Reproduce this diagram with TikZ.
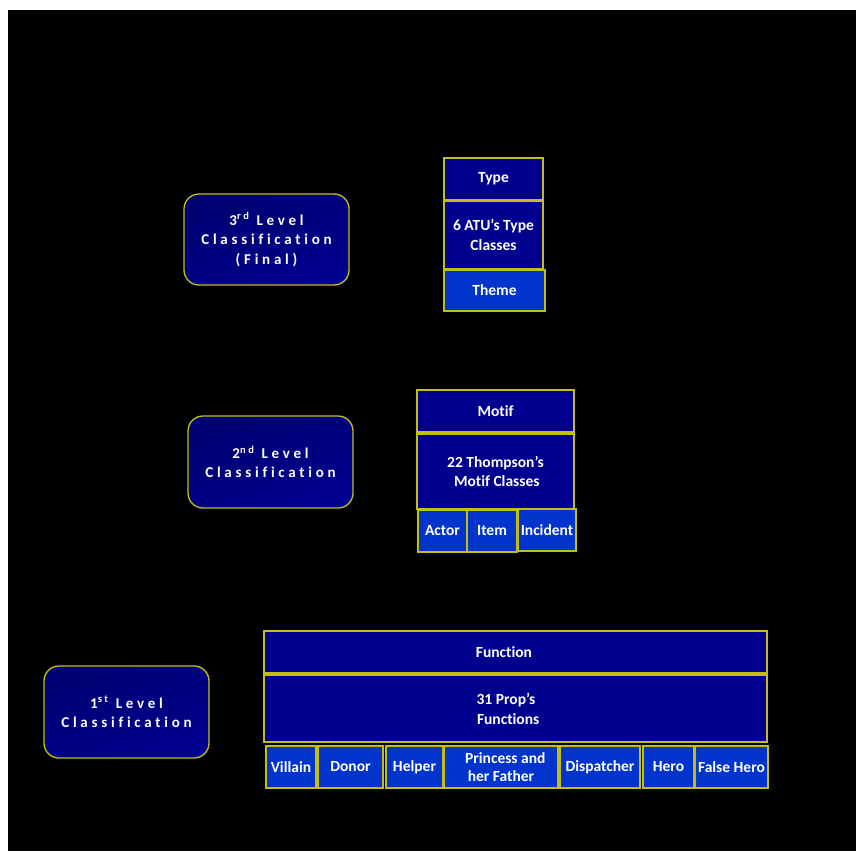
\documentclass[tikz,border=0pt]{standalone}
\usepackage{fontspec}
\setmainfont{Carlito}[Ligatures=NoCommon]
\definecolor{navy}{RGB}{0,0,142}
\definecolor{lblue}{RGB}{0,52,204}
\definecolor{bord}{RGB}{196,190,20}
\newcommand{\bx}[7]{%
  \node[#6, minimum width={(#4)-(#2)}, minimum height={(#5)-(#3)}] (#1) at ({((#2)+(#4))/2},{((#3)+(#5))/2}) {#7};}
\begin{document}
\begin{tikzpicture}[x=1pt,y=-1pt,
  dk/.style={draw=bord, line width=1.3pt, fill=navy, inner sep=0pt, outer sep=0pt, text=white, font=\fontsize{15.5}{18}\selectfont\bfseries, align=center},
  lt/.style={dk, fill=lblue},
  lvl/.style={draw=bord, line width=1.3pt, rounded corners=15pt, inner sep=0pt, outer sep=0pt, top color=navy!80!black, bottom color=navy, shading angle=20, text=white, align=center, font=\fontsize{15}{19.5}\selectfont\bfseries\addfontfeature{LetterSpace=25,Ligatures=NoCommon}},
  txt/.style={text=white, inner sep=0pt, align=center, font=\fontsize{15.5}{19.5}\selectfont\bfseries}]
\useasboundingbox (0,0) rectangle (856,851);
\fill[white] (0,0) rectangle (856,851);
\fill[black] (8,10) rectangle (856,851);
% level 3
\bx{l3}{184}{194}{349}{285}{lvl}{3\textsuperscript{rd} Level\\Classification\\(Final)}
\bx{type}{444}{158}{543}{200}{dk}{Type}
\bx{atu}{444}{201}{543}{269}{dk,font=\fontsize{15.5}{19.5}\selectfont\bfseries}{6 ATU’s Type\\Classes}
\bx{theme}{444}{270}{545}{311}{lt}{Theme}
% level 2
\bx{l2}{188}{416}{353}{508}{lvl}{2\textsuperscript{nd} Level\\Classification}
\bx{motif}{417}{390}{574}{432}{dk}{Motif}
\bx{thom}{417}{434}{574}{509}{dk,font=\fontsize{15.5}{19.5}\selectfont\bfseries}{22 Thompson’s\\ \,Motif Classes}
\bx{actor}{418}{510}{467}{552}{lt}{Actor}
\bx{item}{467}{510}{517}{552}{lt}{Item}
\bx{incident}{518}{509}{576}{551}{lt}{Incident}
% level 1
\bx{l1}{44}{666}{209}{758}{lvl}{1\textsuperscript{st} Level\\Classification}
\bx{func}{264}{631}{767}{673}{dk}{}
\bx{prop}{264}{675}{767}{742}{dk}{}
\node[txt] (functxt) at (504,652) {Function};
\node[txt] (proptxt) at (506,709) {31 Prop’s\\ \;Functions};
\bx{villain}{266}{746}{316}{788}{lt}{Villain}
\bx{donor}{318}{746}{383}{788}{lt}{Donor}
\bx{helper}{386}{746}{443}{788}{lt}{Helper}
\bx{princess}{444}{746}{558}{788}{lt,font=\fontsize{15.5}{18}\selectfont\bfseries}{\;\;Princess and\\her Father}
\bx{dispatcher}{560}{746}{640}{788}{lt}{Dispatcher}
\bx{hero}{643}{746}{694}{788}{lt}{Hero}
\bx{falsehero}{695}{746}{768}{788}{lt}{False Hero}
\end{tikzpicture}
\end{document}
